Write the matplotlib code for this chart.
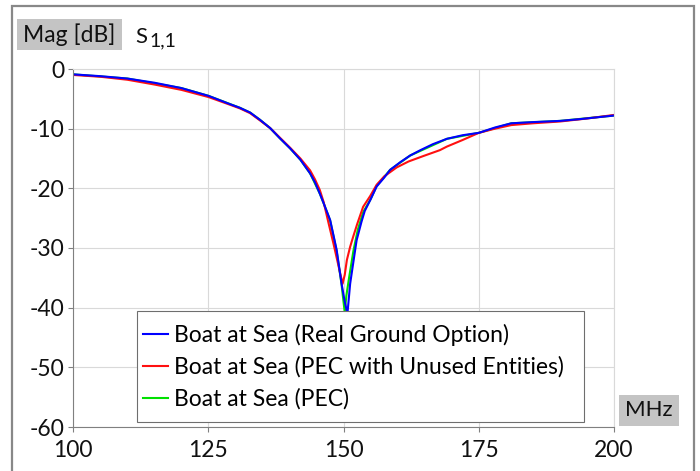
import matplotlib.pyplot as plt
from matplotlib.patches import Rectangle

# S1,1 magnitude
freq_real = [100, 105, 110, 115, 120, 125, 129, 130.8, 132.7, 134.5, 136.4, 138.2, 140.1,
             142, 143.8, 144.7, 145.6, 146.3, 147.5, 148.7, 149.6, 150.2, 150.7, 151.2,
             152.1, 152.4, 153.3, 153.9, 154.9, 156.1, 157.5, 158.6, 160.5, 162.3,
             164.2, 166.5, 169.1, 172, 175, 178, 181, 185, 190, 193.7, 200]
mag_real = [-0.9, -1.2, -1.6, -2.3, -3.2, -4.5, -5.9, -6.5, -7.3, -8.5, -9.9, -11.6, -13.3,
            -15.2, -17.5, -19.0, -20.9, -22.5, -25.3, -30.3, -35.9, -39.0, -41.0, -36.0,
            -30.5, -28.7, -25.6, -23.8, -22.0, -19.7, -18.2, -16.9, -15.6, -14.5,
            -13.6, -12.6, -11.7, -11.1, -10.7, -9.8, -9.1, -8.9, -8.7, -8.4, -7.8]

freq_unused = [100, 105, 110, 115, 120, 125, 129, 130.8, 132.7, 134.5, 136.4, 138.2, 140.1,
               142, 143.8, 144.7, 145.6, 146.3, 147.2, 148.1, 149.0, 149.8, 150.2, 150.6,
               151.2, 151.8, 152.5, 153.6, 154.9, 156.1, 157.5, 159.8, 162, 164.7,
               167.8, 169.1, 172, 175, 178, 181, 185, 190, 195, 200]
mag_unused = [-1.0, -1.3, -1.8, -2.6, -3.5, -4.7, -6.0, -6.6, -7.4, -8.6, -9.9, -11.5, -13.2,
              -15.0, -17.0, -18.5, -20.3, -22.3, -25.8, -29.2, -32.8, -36.0, -34.5, -32.0,
              -29.8, -28.0, -26.0, -23.1, -21.3, -19.4, -18.0, -16.5, -15.5, -14.6,
              -13.6, -13.0, -11.9, -10.7, -10.0, -9.4, -9.1, -8.8, -8.3, -7.7]

freq_pec = [100, 110, 120, 125, 130.8, 132.7, 134.5, 136.4, 138.2, 140.1, 142, 143.8,
            145.6, 146.3, 147.5, 148.7, 149.6, 150.2, 150.5, 151.0, 151.8, 152.6, 153.6,
            155, 156.1, 158.6, 162.3, 169.1, 175, 181, 190, 200]
mag_pec = [-0.9, -1.6, -3.2, -4.5, -6.5, -7.3, -8.5, -9.9, -11.6, -13.3, -15.2, -17.5,
           -20.9, -22.5, -25.4, -30.5, -36.0, -40.8, -38.0, -35.0, -30.5, -27.0, -24.0,
           -21.8, -19.6, -16.9, -14.5, -11.7, -10.7, -9.1, -8.7, -7.8]

labels = ["Boat at Sea (Real Ground Option)",
          "Boat at Sea (PEC with Unused Entities)",
          "Boat at Sea (PEC)"]
x_ticks = [100, 125, 150, 175, 200]
y_ticks = [0, -10, -20, -30, -40, -50, -60]

plt.rcParams["font.family"] = ["Lato", "DejaVu Sans"]
plt.rcParams["axes.unicode_minus"] = False

W, H = 700, 471
fig = plt.figure(figsize=(7, 4.71), dpi=100)
ax = fig.add_axes([73.3 / W, 1 - 427 / H, (614 - 73.3) / W, (427 - 69) / H])

g, = ax.plot(freq_pec, mag_pec, color="#00e000", lw=1.5)
r, = ax.plot(freq_unused, mag_unused, color="#ff1010", lw=1.5)
b, = ax.plot(freq_real, mag_real, color="#0000ff", lw=1.5)

ax.set_xlim(100, 200)
ax.set_ylim(-60, 0)
ax.set_xticks(x_ticks)
ax.set_yticks(y_ticks)
ax.grid(True, color="#d9d9d9", lw=0.8)
ax.set_axisbelow(True)
for s in ["left", "bottom"]:
    ax.spines[s].set_color("#808080")
    ax.spines[s].set_linewidth(0.8)
for s in ["top", "right"]:
    ax.spines[s].set_color("#d9d9d9")
    ax.spines[s].set_linewidth(0.8)
ax.tick_params(direction="out", length=3.5, width=0.8, color="#808080",
               labelsize=16.5, labelcolor="#111111")
ax.tick_params(axis="x", pad=6)
ax.tick_params(axis="y", pad=3)

# legend box drawn as a figure patch, legend entries on top of it
fig.patches.append(Rectangle((137 / W, 1 - 422 / H), (584 - 137) / W, (422 - 311) / H,
                             transform=fig.transFigure, facecolor="white",
                             edgecolor="#6e6e6e", lw=0.8))
fig.legend([b, r, g], labels, loc="upper left",
           bbox_to_anchor=(143 / W, 1 - 324 / H), borderaxespad=0, borderpad=0,
           fontsize=16.5, handlelength=1.1, handletextpad=0.25, labelspacing=0.45,
           frameon=False)

# outer frame and label boxes
fig.patches.append(Rectangle((12 / W, -0.05), (694 - 12) / W, 1.05 - 6 / H,
                             transform=fig.transFigure, fill=False,
                             edgecolor="#888888", lw=1.6))
fig.patches.append(Rectangle((17 / W, 1 - 50 / H), 105 / W, 31 / H,
                             transform=fig.transFigure, color="#c4c4c4", lw=0))
fig.text(69 / W, 1 - 35 / H, "Mag [dB]", ha="center", va="center",
         fontsize=16.5, color="#111111")
fig.text(135 / W, 1 - 43.3 / H, "S", ha="left", va="baseline",
         fontsize=16, color="#111111")
fig.text(149 / W, 1 - 46 / H, "1,1", ha="left", va="baseline",
         fontsize=14, color="#111111")
fig.patches.append(Rectangle((619 / W, 1 - 426 / H), 60 / W, 31 / H,
                             transform=fig.transFigure, color="#c4c4c4", lw=0))
fig.text(649 / W, 1 - 410.5 / H, "MHz", ha="center", va="center",
         fontsize=16, color="#111111")

fig.savefig("out.png", dpi=100)
